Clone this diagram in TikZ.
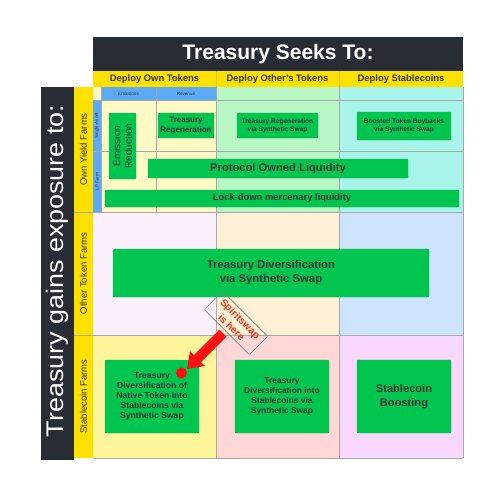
\documentclass[tikz,border=0pt]{standalone}
\usepackage{fontspec}
\setmainfont{Liberation Sans}
\definecolor{dark}{HTML}{282C34}
\definecolor{hdr}{HTML}{FFE100}
\definecolor{hdrl}{HTML}{D8C040}
\definecolor{sub}{HTML}{5AAAF5}
\definecolor{cA}{HTML}{FFF9C6}
\definecolor{cB}{HTML}{B9F6C5}
\definecolor{cC}{HTML}{A8F4EA}
\definecolor{cD}{HTML}{FBF0FD}
\definecolor{cE}{HTML}{FFF0D6}
\definecolor{cF}{HTML}{CCE4FC}
\definecolor{cG}{HTML}{FFF69C}
\definecolor{cH}{HTML}{FFD7D7}
\definecolor{cI}{HTML}{F8D8FE}
\definecolor{grn}{HTML}{00C650}
\definecolor{grnb}{HTML}{1AA84A}
\definecolor{txt}{HTML}{353535}
\definecolor{gl}{HTML}{A8A8A8}
\definecolor{redA}{HTML}{FF1010}
\definecolor{redT}{HTML}{EE3A1E}
\newcommand{\fs}[2]{\fontsize{#1}{#2}\selectfont}
\tikzset{
  gbox/.style={fill=grn, draw=grnb, line width=0.4pt, rounded corners=1pt, text=txt, align=center, inner sep=0pt},
  gridl/.style={draw=gl, line width=0.5pt},
  hlabel/.style={text=txt, font=\bfseries\fs{9.4}{11}, inner sep=0pt},
  rlabel/.style={text=txt, font=\fs{9.5}{11}, rotate=90, inner sep=0pt},
  tiny/.style={text=txt, font=\fs{4.5}{5}, inner sep=0pt},
}
\begin{document}
\begin{tikzpicture}[x=1pt, y=-1pt]
\useasboundingbox (0,0) rectangle (500,495);
% title bars
\fill[dark] (93,37) rectangle (463,71);
\node[text=white, font=\bfseries\fs{21}{24}, inner sep=0pt] (title) at (278,54) {Treasury Seeks To:};
\fill[dark] (41,87) rectangle (74,460);
\node[text=white, font=\fs{24}{26}, rotate=90, inner sep=0pt] (vtitle) at (57.5,271) {\scalebox{1.12}[1]{Treasury gains exposure to:}};
% header row
\fill[hdr] (93,71) rectangle (463,87);
\fill[hdr] (74,87) rectangle (93,458);
% cells
\fill[cA] (93,87) rectangle (216,212);
\fill[cB] (216,87) rectangle (339,212);
\fill[cC] (339,87) rectangle (463,212);
\fill[cD] (93,212) rectangle (216,335);
\fill[cE] (216,212) rectangle (339,335);
\fill[cF] (339,212) rectangle (463,335);
\fill[cG] (93,335) rectangle (216,458);
\fill[cH] (216,335) rectangle (339,458);
\fill[cI] (339,335) rectangle (463,458);
% blue sub headers
\fill[sub] (101,87) rectangle (216,100);
\fill[sub] (93,100) rectangle (101,212);
% grid lines
\draw[hdrl, line width=0.5pt] (216,71) -- (216,87) (339,71) -- (339,87);
\draw[gridl] (216,87) -- (216,458) (339,87) -- (339,458) (463,87) -- (463,458);
\draw[gridl] (156,87) -- (156,212) (101,87) -- (101,212);
\draw[gridl] (93,100) -- (463,100) (93,151) -- (463,151);
\draw[gridl] (74,212) -- (463,212) (74,335) -- (463,335) (93,458) -- (463,458);
% header labels
\node[hlabel] (h1) at (154.5,79) {Deploy Own Tokens};
\node[hlabel] (h2) at (277.5,79) {Deploy Other's Tokens};
\node[hlabel] (h3) at (401,79) {Deploy Stablecoins};
\node[rlabel] (r1) at (83.5,149.5) {Own Yield Farms};
\node[rlabel] (r2) at (83.5,273.5) {Other Token Farms};
\node[rlabel] (r3) at (83.5,396.5) {Stablecoin Farms};
\node[tiny] (s1) at (128.5,93.5) {Emissions};
\node[tiny] (s2) at (186,93.5) {Revenue};
\node[tiny, rotate=90] (s3) at (97,125.5) {Single-Asset};
\node[tiny, rotate=90] (s4) at (97,181.5) {LP Farm};
% green boxes
\node[gbox, rotate=90, minimum width=66pt, minimum height=27pt, font=\fs{10}{11.5}] (er) at (122.5,146) {Emission\\Reduction};
\node[gbox, minimum width=56pt, minimum height=25pt, font=\bfseries\fs{8}{9.5}] (tr) at (186,125.5) {Treasury\\Regeneration};
\node[gbox, minimum width=81pt, minimum height=25pt, font=\bfseries\fs{6.6}{8}] (trs) at (277.5,125.5) {Treasury Regeneration\\via Synthetic Swap};
\node[gbox, minimum width=94pt, minimum height=28pt, font=\bfseries\fs{6.6}{8}] (bb) at (404,126) {Boosted Token Buybacks\\via Synthetic Swap};
\node[gbox, minimum width=260pt, minimum height=19pt, font=\bfseries\fs{11.2}{13}] (pol) at (278,168.5) {Protocol Owned Liquidity};
\node[gbox, minimum width=354pt, minimum height=17pt, font=\bfseries\fs{9.4}{11}] (lock) at (282,198.5) {Lock-down mercenary liquidity};
\node[gbox, minimum width=316pt, minimum height=48pt, font=\bfseries\fs{11.3}{14}] (td) at (271,273) {Treasury Diversification\\via Synthetic Swap};
\node[gbox, minimum width=94pt, minimum height=73pt, font=\bfseries\fs{8.6}{10.2}] (b1) at (152,396.5) {Treasury\\Diversification of\\Native Token into\\Stablecoins via\\Synthetic Swap};
\node[gbox, minimum width=94pt, minimum height=73pt, font=\bfseries\fs{8.4}{10.2}] (b2) at (282,396.5) {Treasury\\Diversification into\\Stablecoins via\\Synthetic Swap};
\node[gbox, minimum width=94pt, minimum height=73pt, font=\bfseries\fs{11.1}{14}] (b3) at (404,396.5) {Stablecoin\\Boosting};
% arrow
\fill[redA] (226.5,336.5) -- (201,362) -- (205,366) -- (187,369) -- (190,351) -- (194,355) -- (219.5,329.5) -- cycle;
\fill[redA] (181.5,373) circle (5.5);
\node[draw=gray, line width=0.6pt, rounded corners=1pt, rotate=-45, minimum width=64pt, minimum height=26pt, inner sep=0pt, text=redT, font=\bfseries\fs{10.2}{12.2}, align=center] (sp) at (236,323) {Spiritswap\\is here};
\end{tikzpicture}
\end{document}
